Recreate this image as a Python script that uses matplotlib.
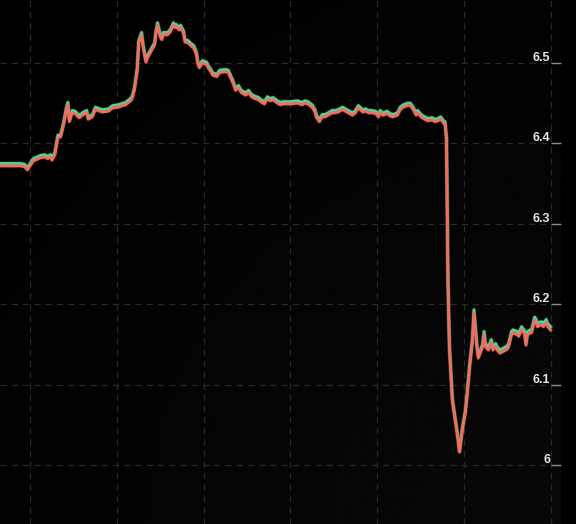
import matplotlib

matplotlib.use("Agg")
import matplotlib.pyplot as plt
import matplotlib.transforms as mtransforms
import numpy as np

# minutes since the start of the window
minutes = [
    0, 7, 14, 17, 19, 23, 28, 31, 33, 35,
    36, 38, 40, 42, 44, 46, 47, 48, 50, 52,
    54, 55, 57, 60, 61, 64, 66, 69, 71, 75,
    78, 82, 85, 87, 89, 91, 92, 93, 95, 96,
    98, 99, 101, 102, 105, 107, 108, 109, 111, 112,
    113, 116, 118, 120, 121, 122, 124, 125, 127, 128,
    130, 133, 134, 136, 137, 138, 140, 143, 144, 146,
    147, 150, 152, 156, 158, 161, 163, 165, 167, 170,
    172, 174, 176, 179, 181, 183, 185, 187, 189, 192,
    194, 196, 201, 206, 209, 211, 213, 216, 218, 219,
    221, 223, 225, 227, 230, 232, 234, 237, 239, 241,
    244, 246, 248, 251, 253, 255, 257, 260, 262, 263,
    265, 268, 270, 272, 275, 277, 279, 282, 284, 286,
    288, 289, 292, 294, 296, 299, 301, 303, 305, 307,
    308, 309, 310, 311, 313, 314, 316, 317, 318, 320,
    322, 323, 325, 327, 328, 329, 330, 331, 334, 335,
    336, 338, 340, 341, 343, 344, 346, 348, 351, 352,
    354, 355, 358, 359, 361, 363, 364, 365, 368, 370,
    371, 372, 374, 375, 376, 378, 379, 381,
]

bid = [
    6.372, 6.372, 6.372, 6.371, 6.367, 6.378, 6.382, 6.383, 6.381, 6.383,
    6.379, 6.386, 6.407, 6.408, 6.423, 6.442, 6.448, 6.427, 6.438, 6.437,
    6.433, 6.432, 6.435, 6.438, 6.430, 6.433, 6.442, 6.440, 6.439, 6.440,
    6.444, 6.445, 6.447, 6.448, 6.451, 6.454, 6.459, 6.466, 6.491, 6.525,
    6.535, 6.520, 6.501, 6.506, 6.516, 6.522, 6.537, 6.547, 6.532, 6.529,
    6.535, 6.535, 6.539, 6.547, 6.544, 6.545, 6.541, 6.544, 6.537, 6.526,
    6.525, 6.520, 6.519, 6.510, 6.498, 6.494, 6.500, 6.498, 6.494, 6.489,
    6.485, 6.483, 6.488, 6.489, 6.488, 6.476, 6.466, 6.469, 6.463, 6.460,
    6.463, 6.458, 6.456, 6.454, 6.451, 6.449, 6.455, 6.453, 6.454, 6.450,
    6.448, 6.449, 6.449, 6.450, 6.448, 6.450, 6.449, 6.445, 6.439, 6.432,
    6.427, 6.433, 6.433, 6.435, 6.438, 6.438, 6.439, 6.442, 6.440, 6.438,
    6.435, 6.438, 6.444, 6.439, 6.440, 6.438, 6.438, 6.437, 6.433, 6.438,
    6.435, 6.437, 6.434, 6.433, 6.435, 6.442, 6.445, 6.447, 6.447, 6.442,
    6.435, 6.438, 6.432, 6.430, 6.428, 6.429, 6.427, 6.428, 6.430, 6.425,
    6.424, 6.404, 6.230, 6.147, 6.081, 6.068, 6.044, 6.031, 6.016, 6.044,
    6.065, 6.081, 6.122, 6.155, 6.189, 6.168, 6.147, 6.133, 6.147, 6.162,
    6.147, 6.143, 6.152, 6.143, 6.147, 6.143, 6.139, 6.141, 6.144, 6.147,
    6.162, 6.164, 6.162, 6.160, 6.168, 6.163, 6.149, 6.162, 6.165, 6.180,
    6.177, 6.172, 6.174, 6.174, 6.172, 6.177, 6.172, 6.168,
]

ask = [
    6.375, 6.375, 6.375, 6.374, 6.370, 6.381, 6.385, 6.386, 6.384, 6.386,
    6.382, 6.389, 6.410, 6.411, 6.426, 6.445, 6.451, 6.430, 6.441, 6.440,
    6.436, 6.435, 6.438, 6.441, 6.433, 6.436, 6.445, 6.443, 6.442, 6.443,
    6.447, 6.448, 6.450, 6.451, 6.454, 6.457, 6.462, 6.469, 6.494, 6.528,
    6.538, 6.523, 6.504, 6.509, 6.519, 6.525, 6.540, 6.550, 6.535, 6.532,
    6.538, 6.538, 6.542, 6.550, 6.547, 6.548, 6.544, 6.547, 6.540, 6.529,
    6.528, 6.523, 6.522, 6.513, 6.501, 6.497, 6.503, 6.501, 6.497, 6.492,
    6.488, 6.486, 6.491, 6.492, 6.491, 6.479, 6.469, 6.472, 6.466, 6.463,
    6.466, 6.461, 6.459, 6.457, 6.454, 6.452, 6.458, 6.456, 6.457, 6.453,
    6.451, 6.452, 6.452, 6.453, 6.451, 6.453, 6.452, 6.448, 6.442, 6.435,
    6.430, 6.436, 6.436, 6.438, 6.441, 6.441, 6.442, 6.445, 6.443, 6.441,
    6.438, 6.441, 6.447, 6.442, 6.443, 6.441, 6.441, 6.440, 6.436, 6.441,
    6.438, 6.440, 6.437, 6.436, 6.438, 6.445, 6.448, 6.450, 6.450, 6.445,
    6.438, 6.441, 6.435, 6.433, 6.431, 6.432, 6.430, 6.431, 6.433, 6.428,
    6.427, 6.407, 6.232, 6.149, 6.083, 6.070, 6.046, 6.033, 6.018, 6.046,
    6.067, 6.084, 6.125, 6.158, 6.193, 6.171, 6.150, 6.136, 6.150, 6.166,
    6.151, 6.147, 6.156, 6.147, 6.151, 6.147, 6.143, 6.145, 6.148, 6.151,
    6.166, 6.168, 6.166, 6.164, 6.172, 6.167, 6.152, 6.166, 6.169, 6.184,
    6.181, 6.176, 6.178, 6.178, 6.176, 6.181, 6.176, 6.172,
]

y_ticks = [6.0, 6.1, 6.2, 6.3, 6.4, 6.5]
y_labels = ["6", "6.1", "6.2", "6.3", "6.4", "6.5"]

assert len(minutes) == len(bid) == len(ask)

fig = plt.figure(figsize=(5.76, 5.24), dpi=100, facecolor="#000000")
ax = fig.add_axes([0, 0, 561 / 576, 1])
ax.set_facecolor("#000000")

# very faint grey glow towards the lower right, like the original backdrop
gx, gy = np.meshgrid(np.linspace(0, 1, 200), np.linspace(0, 1, 200))
glow = np.clip(np.hypot(gx - 1.0, gy - 1.0), 0, 1.4)
ax.imshow(1.0 - glow / 1.4, cmap="gray", vmin=0, vmax=30, extent=[0, 1, 0, 1],
          transform=ax.transAxes, aspect="auto", zorder=0, interpolation="bilinear")

ax.plot(minutes, ask, color="#3fcf92", lw=3.0, alpha=0.3, zorder=2, solid_joinstyle="round")
ax.plot(minutes, ask, color="#4fd69c", lw=2.0, zorder=3, solid_joinstyle="round")
ax.plot(minutes, bid, color="#f0685a", lw=3.0, alpha=0.25, zorder=4, solid_joinstyle="round")
ax.plot(minutes, bid, color="#f26d5e", lw=1.9, zorder=5, solid_joinstyle="round")

ax.set_xlim(0, 561 / 86.7 * 60)
ax.set_ylim(6.0 - 59 / 804, 6.0 + 465 / 804)

ax.set_xticks(np.arange(21, 390, 60))
ax.set_yticks(y_ticks)
ax.yaxis.tick_right()
ax.tick_params(axis="x", length=0, labelbottom=False)
ax.tick_params(axis="y", direction="in", length=7.2, width=1, color="#8a8a8a",
               labelright=False, labelleft=False)
ax.grid(True, color="#282828", lw=0.9, linestyle=(0, (5, 4)))
for spine in ax.spines.values():
    spine.set_visible(False)

lbl_trans = mtransforms.offset_copy(ax.get_yaxis_transform(), fig=fig, x=-1, y=2, units="dots")
for val, txt in zip(y_ticks, y_labels):
    ax.text(551 / 561, val, txt, transform=lbl_trans, ha="right", va="baseline",
            color="#e8e8e8", fontsize=9, fontweight="bold",
            family=["Liberation Sans", "DejaVu Sans"], zorder=6)

plt.savefig("out.png", dpi=100, facecolor=fig.get_facecolor())
plt.close(fig)
